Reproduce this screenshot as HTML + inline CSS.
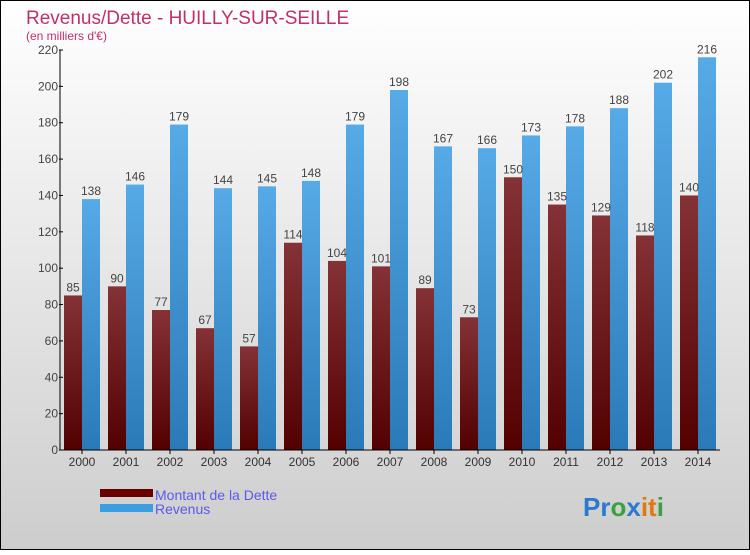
<!DOCTYPE html>
<html><head><meta charset="utf-8"><style>
body{margin:0;width:750px;height:550px;overflow:hidden;font-family:"Liberation Sans",sans-serif;}
</style></head><body>
<svg id="chart" width="750" height="550" xmlns="http://www.w3.org/2000/svg">
<defs>
<linearGradient id="bg" x1="0" y1="0" x2="0" y2="1"><stop offset="0" stop-color="#ffffff"/><stop offset="1" stop-color="#cdcdcd"/></linearGradient>
<linearGradient id="gd" x1="0" y1="0" x2="0" y2="1"><stop offset="0" stop-color="#853236"/><stop offset="1" stop-color="#520000"/></linearGradient>
<linearGradient id="gr" x1="0" y1="0" x2="0" y2="1"><stop offset="0" stop-color="#56aae6"/><stop offset="1" stop-color="#2a7ab8"/></linearGradient>
</defs>
<rect x="0.5" y="0.5" width="749" height="549" fill="url(#bg)" stroke="#000"/>
<text x="26" y="24" font-size="19" fill="#c0306a">Revenus/Dette - HUILLY-SUR-SEILLE</text>
<text x="26" y="40" font-size="12" fill="#c0306a">(en milliers d'€)</text>
<g id="bars"></g>
<g id="axes"></g>
<rect x="100" y="489" width="53" height="8" fill="#6a0000"/>
<rect x="100" y="504" width="53" height="8" fill="#3a9ee0"/>
<text x="155" y="500" font-size="14" fill="#5a5aee">Montant de la Dette</text>
<text x="155" y="514" font-size="14" fill="#5a5aee">Revenus</text>
<text x="583" y="516" font-size="26" font-weight="bold"><tspan fill="#2a7ad0">Pr</tspan><tspan fill="#3aa040">o</tspan><tspan fill="#2a7ad0">x</tspan><tspan fill="#e07a10">it</tspan><tspan fill="#3aa040">i</tspan></text>
</svg>
<script>
const years=["2000","2001","2002","2003","2004","2005","2006","2007","2008","2009","2010","2011","2012","2013","2014"];
const dette=[85,90,77,67,57,114,104,101,89,73,150,135,129,118,140];
const revenus=[138,146,179,144,145,148,179,198,167,166,173,178,188,202,216];
const yTicks=[0,20,40,60,80,100,120,140,160,180,200,220];
const NS="http://www.w3.org/2000/svg";
const y0=450,yTop=50,yMax=220,x0=60,step=44;
function ys(v){return y0-(y0-yTop)*v/yMax;}
function xc(i){return x0+22+i*step;}
function mk(t,a,p){const e=document.createElementNS(NS,t);for(const k in a)e.setAttribute(k,a[k]);p.appendChild(e);return e;}
const bars=document.getElementById('bars'),axes=document.getElementById('axes');
years.forEach((yr,i)=>{
  const c=xc(i);
  const d=mk('rect',{x:c-18,y:ys(dette[i]),width:18,height:y0-ys(dette[i]),fill:'url(#gd)'},bars);
  
  
  const r=mk('rect',{x:c,y:ys(revenus[i]),width:18,height:y0-ys(revenus[i]),fill:'url(#gr)'},bars);
  
  
  const t1=mk('text',{x:c-9,y:ys(dette[i])-4,'font-size':12,fill:'#444','text-anchor':'middle'},bars);t1.textContent=dette[i];
  
  
  const t2=mk('text',{x:c+9,y:ys(revenus[i])-4,'font-size':12,fill:'#444','text-anchor':'middle'},bars);t2.textContent=revenus[i];
  
  
  const xl=mk('text',{x:c,y:466,'font-size':12,fill:'#333','text-anchor':'middle'},axes);xl.textContent=yr;
  
  
  mk('line',{x1:c,x2:c,y1:450,y2:454,stroke:'#000'},axes);
});
const ya=mk('line',{x1:x0,x2:x0,y1:yTop,y2:y0,stroke:'#000','stroke-width':1},axes);


const xa=mk('line',{x1:x0,x2:720,y1:y0,y2:y0,stroke:'#000','stroke-width':1},axes);


yTicks.forEach(v=>{
  mk('line',{x1:x0-1,x2:x0+3,y1:ys(v),y2:ys(v),stroke:'#000'},axes);
  const t=mk('text',{x:x0-2,y:ys(v)+4,'font-size':12,fill:'#444','text-anchor':'end'},axes);t.textContent=v;
  
  
});
</script>
</body></html>
